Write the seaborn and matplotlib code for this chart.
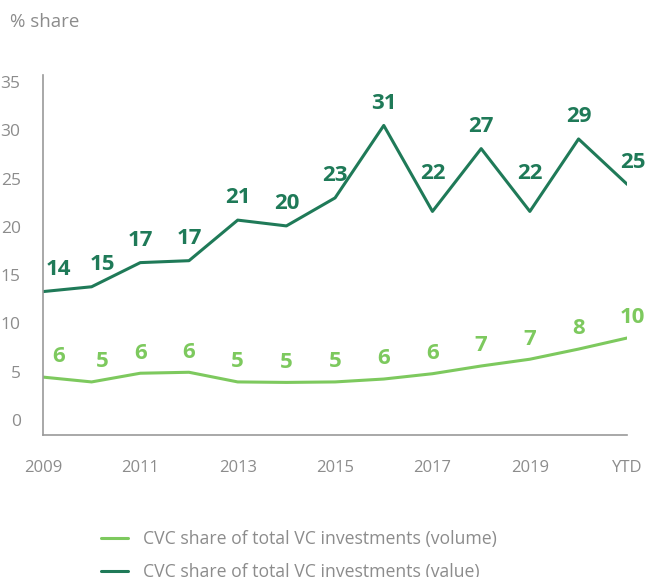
import numpy as np
import pandas as pd
import matplotlib
matplotlib.use("Agg")
import matplotlib.pyplot as plt
import seaborn as sns

# --- data ---
periods = ["2009", "2010", "2011", "2012", "2013", "2014", "2015",
           "2016", "2017", "2018", "2019", "2020", "YTD"]
volume_share = [4.45, 3.95, 4.85, 4.95, 3.95, 3.9, 3.95, 4.25, 4.8, 5.6, 6.3, 7.35, 8.5]
value_share = [13.3, 13.8, 16.3, 16.5, 20.7, 20.1, 23.0, 30.5, 21.6, 28.1, 21.6, 29.1, 24.4]
volume_labels = [6, 5, 6, 6, 5, 5, 5, 6, 6, 7, 7, 8, 10]
value_labels = [14, 15, 17, 17, 21, 20, 23, 31, 22, 27, 22, 29, 25]
series_names = ["CVC share of total VC investments (volume)",
                "CVC share of total VC investments (value)"]

light_green = "#7DC95E"
dark_green = "#1F7A58"
grey = "#8C8C8C"

df = pd.DataFrame({
    "x": list(range(len(periods))) * 2,
    "share": volume_share + value_share,
    "series": [series_names[0]] * len(periods) + [series_names[1]] * len(periods),
})

sns.set_style("white")
plt.rcParams["font.family"] = ["Open Sans", "DejaVu Sans"]

fig = plt.figure(figsize=(6.5, 5.77), dpi=100)
ax = fig.add_axes([0.066, 0.246, 0.899, 0.624])

sns.lineplot(data=df, x="x", y="share", hue="series",
             palette=[light_green, dark_green], linewidth=2.2, ax=ax)

ax.set_xlim(0, len(periods) - 1)
ax.set_ylim(-1.55, 35.72)
ax.set_yticks(range(0, 36, 5))
ax.set_xticks(range(0, len(periods), 2))
ax.set_xticklabels(periods[::2])
ax.set_xlabel("")
ax.set_ylabel("")
ax.tick_params(axis="y", length=0, pad=16, labelsize=12.5, labelcolor=grey)
ax.tick_params(axis="x", length=0, pad=18, labelsize=12, labelcolor=grey)

sns.despine(ax=ax)
for side in ["left", "bottom"]:
    ax.spines[side].set_color("#9A9A9A")
    ax.spines[side].set_linewidth(1.2)


def label_series(vals, labels, color, base_dy):
    n = len(vals)
    for i, (v, lab) in enumerate(zip(vals, labels)):
        dy = base_dy
        # raise labels sitting in a dip so they clear the line
        if 0 < i < n - 1 and v < vals[i - 1] and v < vals[i + 1] and vals[i - 1] - v > 3:
            dy = 27
        dx = 0
        if i == 0:
            dx = 11
        elif i == 1:
            dx = 8
        elif i == n - 1:
            dx = 4
        ax.annotate(str(lab), (i, v), xytext=(dx, dy), textcoords="offset points",
                    ha="center", va="center", fontsize=16, fontweight="bold",
                    color=color, annotation_clip=False)


label_series(value_share, value_labels, dark_green, 16)
label_series(volume_share, volume_labels, light_green, 14.5)

fig.text(0.015, 0.962, "% share", fontsize=13.5, color=grey, va="center", ha="left")

handles, labels = ax.get_legend_handles_labels()
ax.get_legend().remove()
leg = fig.legend(handles, labels, loc="upper left", bbox_to_anchor=(0.155, 0.081),
                 frameon=False, fontsize=12.7, handlelength=1.55, handletextpad=0.85,
                 labelspacing=0.85, borderaxespad=0, borderpad=0)
for t in leg.get_texts():
    t.set_color(grey)

fig.savefig("out.png", dpi=100)
